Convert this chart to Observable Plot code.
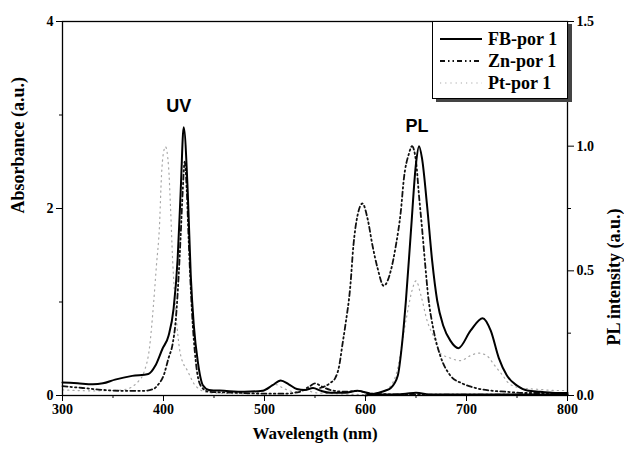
<!DOCTYPE html>
<html>
<head>
<meta charset="utf-8">
<script src="https://cdn.jsdelivr.net/npm/d3@7"></script>
<script src="https://cdn.jsdelivr.net/npm/@observablehq/plot@0.6"></script>
<style>
  html, body { margin: 0; padding: 0; background: #fff; }
  #wrap { position: relative; width: 624px; height: 454px; }
  #legend {
    position: absolute; left: 432px; top: 21px; width: 134px; height: 76px;
    background: #fff; border: 1px solid #000; box-shadow: 4px 3px 0 #444;
    font-family: "Liberation Serif", serif; font-weight: bold; font-size: 18px;
  }
  .row { position: absolute; left: 0; height: 20px; display: flex; align-items: center; }
  .row svg { margin-left: 7px; }
  .row span { margin-left: 6px; }
</style>
</head>
<body>
<div id="wrap"></div>
<script>
// ---------- data ----------
const seriesNames = ["FB-por 1", "Zn-por 1", "Pt-por 1"];

// FB-por 1, absorbance (left axis)
const fbUvX = [300,315,330,340,352,369,385,392,399,405,410,414,417,420,424,427,430,434,439,445,460,480,498,508,516,524,532,540,548,556,565,580,592,605,620,640,650,665,690,750,800];
const fbUvY = [0.14,0.13,0.12,0.13,0.17,0.21,0.23,0.32,0.50,0.64,0.93,1.46,2.18,2.87,2.18,1.28,0.75,0.36,0.11,0.06,0.05,0.04,0.05,0.11,0.16,0.12,0.07,0.06,0.08,0.05,0.03,0.03,0.05,0.02,0.01,0.02,0.03,0.01,0.01,0.01,0.01];
// FB-por 1, PL intensity (right axis)
const fbPlX = [600,612,620,625,632,636,640,645,650,653,656,661,666,671,677,684,692,704,716,724,732,740,750,760,773,790,800];
const fbPlY = [0.0,0.01,0.02,0.03,0.08,0.2,0.38,0.66,0.93,1.0,0.95,0.76,0.54,0.38,0.28,0.22,0.19,0.26,0.31,0.26,0.15,0.08,0.04,0.02,0.015,0.01,0.01];

// Zn-por 1
const znUvX = [300,320,340,360,380,390,395,400,405,409,412,415,417,419,421,423,425,428,432,437,445,470,500,520,535,545,550,556,565,580,592,605,640,700,800];
const znUvY = [0.10,0.08,0.06,0.05,0.05,0.07,0.12,0.21,0.40,0.55,0.79,1.28,1.71,2.18,2.5,2.2,1.64,0.93,0.36,0.10,0.04,0.03,0.02,0.02,0.04,0.10,0.13,0.10,0.06,0.04,0.05,0.02,0.01,0.01,0.01];
const znPlX = [555,565,570,574,577,580,585,588,592,597,602,607,612,618,625,630,635,638,643,646,650,653,656,659,662,667,674,684,696,709,723,739,760,800];
const znPlY = [0.03,0.05,0.07,0.12,0.2,0.28,0.44,0.6,0.72,0.77,0.71,0.6,0.51,0.44,0.5,0.6,0.74,0.87,0.97,1.0,0.94,0.8,0.67,0.53,0.4,0.27,0.16,0.08,0.048,0.03,0.02,0.015,0.01,0.01];

// Pt-por 1
const ptUvX = [300,330,360,375,381,386,390,393,396,398,400,402,405,407,409,412,417,424,432,445,480,500,510,520,530,540,550,570,600,800];
const ptUvY = [0.06,0.05,0.06,0.15,0.26,0.5,0.96,1.39,1.81,2.35,2.6,2.66,2.45,2.0,1.46,0.93,0.43,0.26,0.1,0.03,0.02,0.05,0.12,0.07,0.04,0.06,0.03,0.02,0.01,0.01];
const ptPlX = [620,630,640,646,650,655,661,667,674,684,694,704,712,720,728,735,743,755,770,790,800];
const ptPlY = [0.02,0.08,0.3,0.42,0.46,0.4,0.3,0.24,0.17,0.15,0.14,0.16,0.17,0.16,0.12,0.085,0.045,0.03,0.025,0.02,0.02];

// axes
const xTicks = [300,400,500,600,700,800];
const xMinor = [350,450,550,650,750];
const leftTicks = [0,2,4];
const leftMinor = [1,3];
const rightTicks = [0.0,0.5,1.0,1.5];
const rightMinor = [0.25,0.75,1.25];
const annLabels = ["UV","PL"];
const annX = [415,651];
const annY = [3.09,2.88];

// ---------- build table ----------
const K = 4 / 1.5; // PL intensity -> absorbance scale
const rows = [];
function add(name, part, xs, ys, f) { xs.forEach((x, i) => rows.push({series: name, part, x, y: ys[i] * f})); }
add("FB-por 1","uv",fbUvX,fbUvY,1); add("FB-por 1","pl",fbPlX,fbPlY,K);
add("Zn-por 1","uv",znUvX,znUvY,1); add("Zn-por 1","pl",znPlX,znPlY,K);
add("Pt-por 1","uv",ptUvX,ptUvY,1); add("Pt-por 1","pl",ptPlX,ptPlY,K);
const ann = annLabels.map((t, i) => ({t, x: annX[i], y: annY[i]}));

const styles = {
  "FB-por 1": {stroke: "#000", strokeWidth: 2, dash: null},
  "Zn-por 1": {stroke: "#111", strokeWidth: 1.8, dash: "5,3,1.5,3,1.5,3"},
  "Pt-por 1": {stroke: "#a8a8a8", strokeWidth: 1.2, dash: "1.2,4"}
};

const lineMarks = seriesNames.slice().reverse().map(name => Plot.line(rows.filter(d => d.series === name), {
  x: "x", y: "y", z: "part", curve: "monotone-x",
  stroke: styles[name].stroke, strokeWidth: styles[name].strokeWidth,
  strokeDasharray: styles[name].dash
}));

const chart = Plot.plot({
  width: 624, height: 454,
  marginLeft: 62, marginRight: 57, marginTop: 21, marginBottom: 59,
  style: {fontFamily: "'Liberation Serif', serif", fontWeight: "bold", fontSize: "14px", background: "#fff", color: "#000"},
  x: {domain: [300, 800]},
  y: {domain: [0, 4]},
  marks: [
    ...lineMarks,
    Plot.frame({stroke: "#000", strokeWidth: 1.3}),
    Plot.axisX({ticks: xTicks, tickSize: 6, tickPadding: 3, label: null, fontSize: 14}),
    Plot.axisX({ticks: xMinor, tickSize: 3, tickFormat: () => "", label: null}),
    Plot.axisY({ticks: leftTicks, tickSize: 6, tickPadding: 3, tickFormat: d => String(d), label: null, fontSize: 14}),
    Plot.axisY({ticks: leftMinor, tickSize: 3, tickFormat: () => "", label: null}),
    Plot.axisY({anchor: "right", ticks: rightTicks.map(v => v * K), tickFormat: v => (v / K).toFixed(1), tickSize: 6, tickPadding: 3, label: null, fontSize: 14}),
    Plot.axisY({anchor: "right", ticks: rightMinor.map(v => v * K), tickFormat: () => "", tickSize: 3, label: null}),
    Plot.text(["Wavelength (nm)"], {frameAnchor: "bottom", dy: 43, fontSize: 17, fontWeight: "bold"}),
    Plot.text(["Absorbance (a.u.)"], {frameAnchor: "left", dx: -44, dy: 5, rotate: -90, fontSize: 18, fontWeight: "bold"}),
    Plot.text(["PL intensity (a.u.)"], {frameAnchor: "right", dx: 47, rotate: -90, fontSize: 18, fontWeight: "bold"}),
    Plot.text(ann, {x: "x", y: "y", text: "t", fontSize: 18, fontWeight: "bold", fontFamily: "'Liberation Sans', Arial, sans-serif"})
  ]
});

const wrap = document.getElementById("wrap");
wrap.appendChild(chart);

// legend
const legend = document.createElement("div");
legend.id = "legend";
seriesNames.forEach((name, i) => {
  const st = styles[name];
  const row = document.createElement("div");
  row.className = "row";
  row.style.top = (7 + i * 22) + "px";
  const ns = "http://www.w3.org/2000/svg";
  const svg = document.createElementNS(ns, "svg");
  svg.setAttribute("width", 42); svg.setAttribute("height", 10);
  const ln = document.createElementNS(ns, "line");
  ln.setAttribute("x1", 0); ln.setAttribute("x2", 42); ln.setAttribute("y1", 5); ln.setAttribute("y2", 5);
  ln.setAttribute("stroke", st.stroke); ln.setAttribute("stroke-width", st.strokeWidth);
  if (st.dash) ln.setAttribute("stroke-dasharray", st.dash);
  svg.appendChild(ln);
  const sp = document.createElement("span");
  sp.textContent = name;
  row.appendChild(svg); row.appendChild(sp);
  legend.appendChild(row);
});
wrap.appendChild(legend);
</script>
</body>
</html>
